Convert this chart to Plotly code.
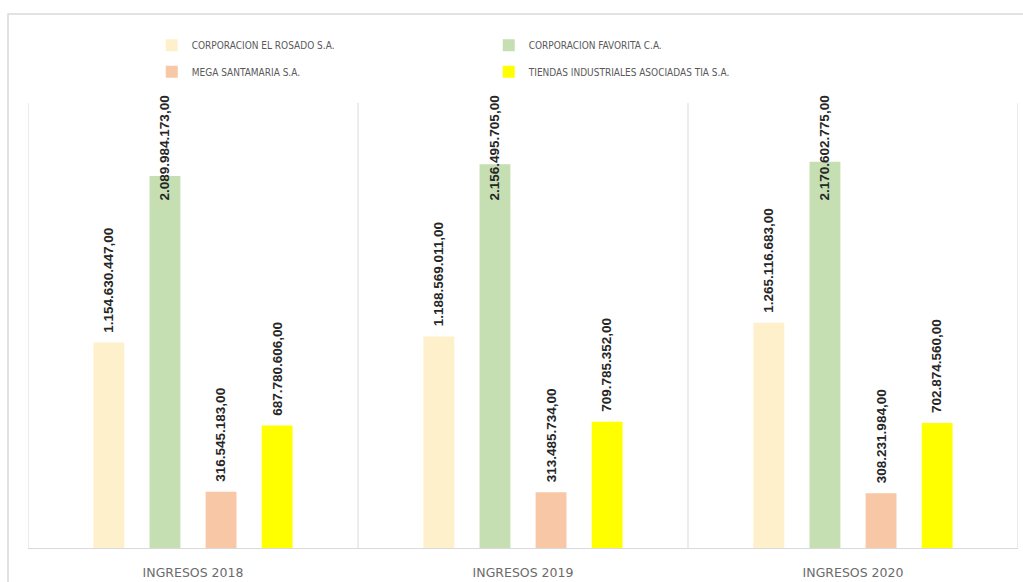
import plotly.graph_objects as go

categories = ["INGRESOS 2018", "INGRESOS 2019", "INGRESOS 2020"]
series_names = [
    "CORPORACION EL ROSADO S.A.",
    "CORPORACION FAVORITA C.A.",
    "MEGA SANTAMARIA S.A.",
    "TIENDAS INDUSTRIALES ASOCIADAS TIA S.A.",
]
rosado = [1154630447.00, 1188569011.00, 1265116683.00]
favorita = [2089984173.00, 2156495705.00, 2170602775.00]
mega = [316545183.00, 313485734.00, 308231984.00]
tia = [687780606.00, 709785352.00, 702874560.00]
colors = ["#FFF0CC", "#C5DFB3", "#F7C7A6", "#FFFF00"]

all_series = [rosado, favorita, mega, tia]
Y_MAX = 2.5e9
BARGAP = 0.32
BARGROUPGAP = 0.45


def fmt(v):
    s = f"{v:,.2f}"
    return s.replace(",", "X").replace(".", ",").replace("X", ".")


fig = go.Figure()
for k, (name, vals, col) in enumerate(zip(series_names, all_series, colors)):
    fig.add_trace(go.Bar(
        x=categories, y=vals, name=name, marker=dict(color=col, line=dict(width=0)),
        legend="legend" if k in (0, 1) else "legend2",
        hoverinfo="name+y",
    ))

label_font = dict(family="Liberation Sans, Arial, sans-serif", size=13.5,
                  color="#262626", weight="bold")
slot = (1 - BARGAP) / len(all_series)
annotations = []
for k, vals in enumerate(all_series):
    off = (k - (len(all_series) - 1) / 2) * slot
    for i, v in enumerate(vals):
        clamp = v > 0.8 * Y_MAX
        annotations.append(dict(
            x=i + off, y=Y_MAX if clamp else v, xref="x", yref="y",
            text=fmt(v), showarrow=False, textangle=-90,
            yanchor="top" if clamp else "bottom",
            yshift=10 if clamp else 8,
            font=label_font,
        ))

shapes = []
for b in [-0.5, 0.5, 1.5, 2.5]:
    shapes.append(dict(type="line", xref="x", yref="paper", x0=b, x1=b, y0=0, y1=1,
                       line=dict(color="#D9D9D9", width=1), layer="below"))
# outer chart border
shapes.append(dict(type="rect", xref="paper", yref="paper", x0=-0.0202, x1=1.02,
                   y0=-0.2, y1=1.2, line=dict(color="#D9D9D9", width=1.5), layer="below"))

legend_common = dict(
    orientation="h", entrywidth=292, entrywidthmode="pixels",
    font=dict(family="DejaVu Sans Condensed, Liberation Sans Narrow, Arial Narrow, sans-serif",
              size=10, color="#595959"),
    bgcolor="rgba(0,0,0,0)", itemclick=False, itemdoubleclick=False,
    xanchor="left", yanchor="middle",
)

fig.update_layout(
    width=1023, height=582,
    margin=dict(l=28, r=5, t=103, b=34, autoexpand=False),
    paper_bgcolor="white", plot_bgcolor="white",
    barmode="group", bargap=BARGAP, bargroupgap=BARGROUPGAP,
    showlegend=True,
    legend=dict(**legend_common, x=0.125, y=1.130),
    legend2=dict(**legend_common, x=0.125, y=1.070),
    xaxis=dict(
        type="category", showgrid=False, showline=True, linecolor="#D9D9D9", linewidth=1,
        ticks="", tickfont=dict(family="DejaVu Sans, sans-serif", size=12.5, color="#6B6B6B"),
        ticklabelstandoff=13, range=[-0.5, 2.5],
    ),
    yaxis=dict(range=[0, Y_MAX], visible=False, showgrid=False, zeroline=False),
    annotations=annotations,
    shapes=shapes,
)

fig.write_html("out.html")
